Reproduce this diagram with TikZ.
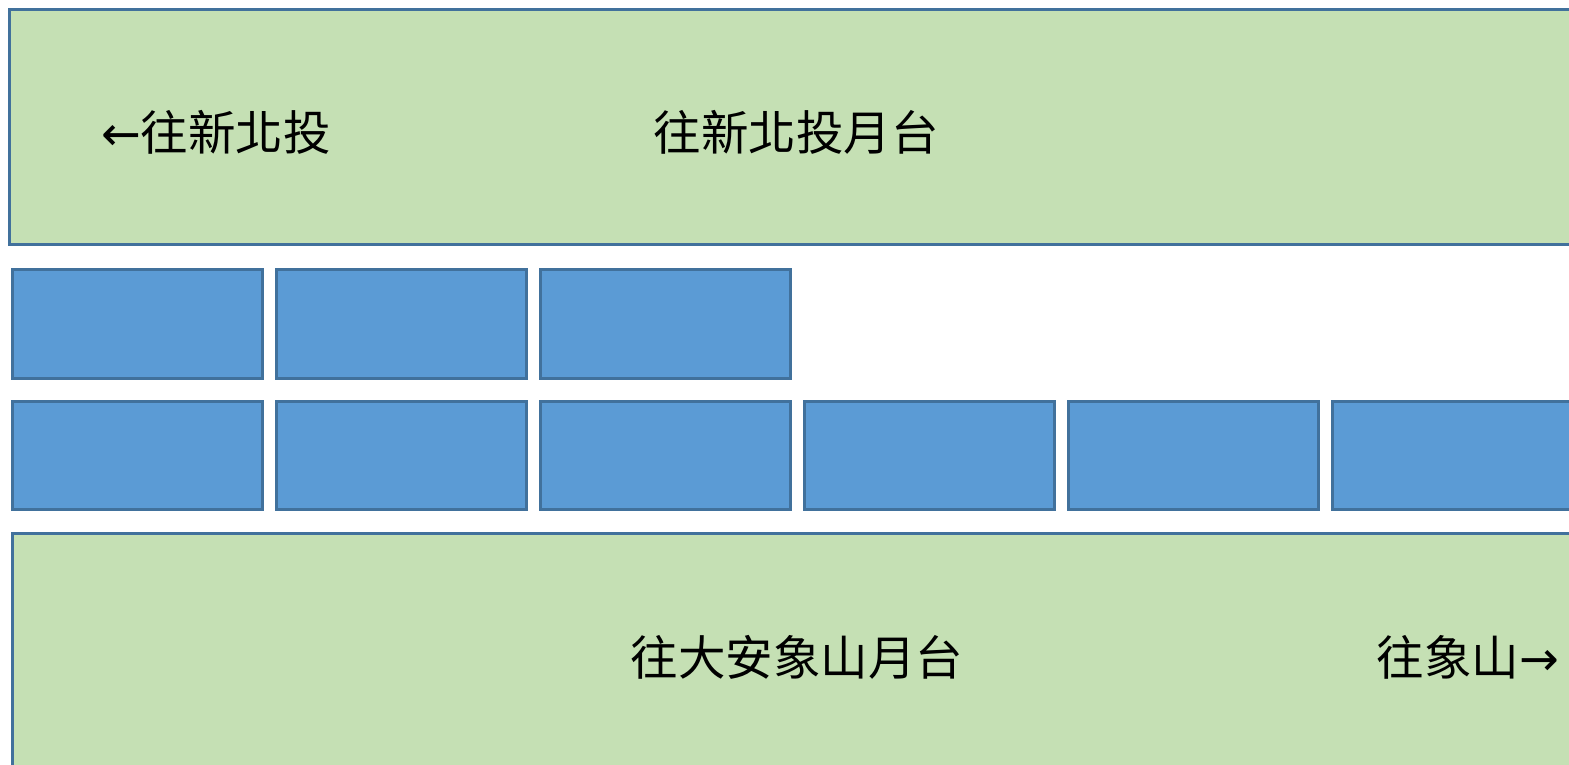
\documentclass[tikz,border=0pt]{standalone}
\usepackage{fontspec}
\newfontfamily\cjk{Noto Sans CJK TC}
\newfontfamily\arr{DejaVu Sans}
\definecolor{gfill}{HTML}{C5E0B4}
\definecolor{bfill}{HTML}{5B9BD5}
\definecolor{edge}{HTML}{41719C}
\begin{document}
\begin{tikzpicture}[x=1pt,y=-1pt,
  platform/.style={fill=gfill,draw=edge,line width=3pt},
  car/.style={fill=bfill,draw=edge,line width=3pt},
  lbl/.style={font=\cjk\fontsize{47.5}{52}\selectfont,inner sep=0pt,anchor=center}]
\useasboundingbox (0,0) rectangle (1569,764);
\clip (0,0) rectangle (1569,764);
\path[platform] (9,9) rectangle (1600,244);
\path[platform] (12,533) rectangle (1600,800);
\foreach \i/\x in {1/12,2/276,3/540}
  \path[car] (\x,269) rectangle ++(250,109) coordinate (u\i);
\foreach \i/\x in {1/12,2/276,3/540,4/804,5/1068}
  \path[car] (\x,401) rectangle ++(250,108) coordinate (l\i);
\path[car] (1332,401) rectangle (1600,509);
\node[lbl] (t1) at (216,132) {{\arr ←}往新北投};
\node[lbl] (t2) at (796,132) {往新北投月台};
\node[lbl] (t3) at (797,657) {往大安象山月台};
\node[lbl] (t4) at (1468,657) {往象山{\arr →}};
\end{tikzpicture}
\end{document}
